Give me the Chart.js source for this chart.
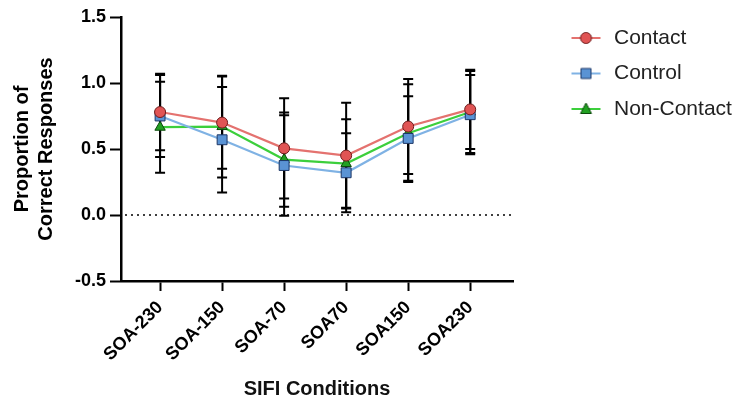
<!DOCTYPE html>
<html>
<head>
<meta charset="utf-8">
<script src="https://cdn.jsdelivr.net/npm/chart.js@4.4.1/dist/chart.umd.min.js"></script>
<style>
  html, body { margin: 0; padding: 0; background: #fff; }
</style>
</head>
<body>
<canvas id="myChart" width="736" height="402"></canvas>
<script>
// values (mean and SD per SIFI condition)
var conditions = ['SOA-230', 'SOA-150', 'SOA-70', 'SOA70', 'SOA150', 'SOA230'];
var contactMean = [0.78, 0.70, 0.505, 0.45, 0.67, 0.80];
var contactSd = [0.29, 0.35, 0.38, 0.40, 0.36, 0.30];
var controlMean = [0.75, 0.57, 0.375, 0.32, 0.58, 0.76];
var controlSd = [0.31, 0.40, 0.38, 0.30, 0.32, 0.30];
var nonContactMean = [0.665, 0.67, 0.42, 0.39, 0.62, 0.78];
var nonContactSd = [0.345, 0.385, 0.357, 0.335, 0.37, 0.31];
var yTicks = [-0.5, 0.0, 0.5, 1.0, 1.5];

var ctx = document.getElementById('myChart').getContext('2d');

function toPoints(values) {
    return values.map(function (v, i) { return { x: i, y: v }; });
}

// little line + marker picture for the legend
function legendSymbol(lineColor, fill, border, shape) {
    var c = document.createElement('canvas');
    c.width = 76;
    c.height = 18;
    var g = c.getContext('2d');
    g.strokeStyle = lineColor;
    g.lineWidth = 2;
    g.beginPath();
    g.moveTo(44, 9);
    g.lineTo(73, 9);
    g.stroke();
    g.fillStyle = fill;
    g.strokeStyle = border;
    g.lineWidth = 1;
    g.beginPath();
    if (shape === 'circle') {
        g.arc(58.5, 9, 5.5, 0, Math.PI * 2);
    } else if (shape === 'rect') {
        g.rect(53.5, 4, 10, 10);
    } else {
        g.moveTo(58.5, 3);
        g.lineTo(64, 13.5);
        g.lineTo(53, 13.5);
        g.closePath();
    }
    g.fill();
    g.stroke();
    return c;
}

var symbols = [
    legendSymbol('#e4726f', '#e05454', '#6e1c1c', 'circle'),
    legendSymbol('#7fb2e4', '#5a93d4', '#1d3766', 'rect'),
    legendSymbol('#3ccf3c', '#22a022', '#0b4a0b', 'triangle')
];

var errorBars = {
    id: 'errorBars',
    beforeDatasetsDraw: function (chart) {
        var c = chart.ctx;
        var yScale = chart.scales.y;
        var area = chart.chartArea;
        // dotted line at zero
        var y0 = yScale.getPixelForValue(0);
        c.save();
        c.strokeStyle = '#000';
        c.lineWidth = 1.6;
        c.setLineDash([2, 4]);
        c.beginPath();
        c.moveTo(area.left + 4, y0);
        c.lineTo(area.right, y0);
        c.stroke();
        c.setLineDash([]);
        c.lineWidth = 2;
        chart.data.datasets.forEach(function (ds, i) {
            var meta = chart.getDatasetMeta(i);
            meta.data.forEach(function (pt, j) {
                var m = ds.data[j].y;
                var top = yScale.getPixelForValue(m + ds.sd[j]);
                var bot = yScale.getPixelForValue(m - ds.sd[j]);
                c.beginPath();
                c.moveTo(pt.x, top);
                c.lineTo(pt.x, bot);
                c.moveTo(pt.x - 5, top);
                c.lineTo(pt.x + 5, top);
                c.moveTo(pt.x - 5, bot);
                c.lineTo(pt.x + 5, bot);
                c.stroke();
            });
        });
        c.restore();
    }
};

var myChart = new Chart(ctx, {
    type: 'line',
    data: {
        datasets: [
            {
                label: 'Contact',
                data: toPoints(contactMean),
                sd: contactSd,
                borderColor: '#e4726f',
                borderWidth: 2.2,
                pointStyle: 'circle',
                pointRadius: 5.5,
                pointBackgroundColor: '#e05454',
                pointBorderColor: '#6e1c1c',
                pointBorderWidth: 1,
                tension: 0
            },
            {
                label: 'Control',
                data: toPoints(controlMean),
                sd: controlSd,
                borderColor: '#7fb2e4',
                borderWidth: 2.2,
                pointStyle: 'rect',
                pointRadius: 7,
                pointBackgroundColor: '#5a93d4',
                pointBorderColor: '#1d3766',
                pointBorderWidth: 1,
                tension: 0
            },
            {
                label: 'Non-Contact',
                data: toPoints(nonContactMean),
                sd: nonContactSd,
                borderColor: '#3ccf3c',
                borderWidth: 2.2,
                pointStyle: 'triangle',
                pointRadius: 6,
                pointBackgroundColor: '#22a022',
                pointBorderColor: '#0b4a0b',
                pointBorderWidth: 1,
                tension: 0
            }
        ]
    },
    options: {
        responsive: false,
        animation: false,
        devicePixelRatio: 1,
        layout: { padding: { left: 6, right: 4, top: 13, bottom: 1 } },
        plugins: {
            tooltip: { enabled: false },
            legend: {
                position: 'right',
                align: 'start',
                maxWidth: 219,
                labels: {
                    usePointStyle: true,
                    pointStyleWidth: 76,
                    padding: 14.5,
                    color: '#222',
                    font: { family: 'Liberation Sans', size: 21 },
                    generateLabels: function (chart) {
                        return chart.data.datasets.map(function (ds, i) {
                            return {
                                text: ds.label,
                                pointStyle: symbols[i],
                                datasetIndex: i,
                                fontColor: '#222',
                                fillStyle: 'transparent',
                                strokeStyle: 'transparent',
                                lineWidth: 0
                            };
                        });
                    }
                }
            }
        },
        scales: {
            x: {
                type: 'linear',
                min: -0.63,
                max: 5.69,
                afterBuildTicks: function (scale) {
                    scale.ticks = conditions.map(function (c, i) { return { value: i }; });
                },
                afterFit: function (scale) {
                    scale.height = 120;
                },
                ticks: {
                    autoSkip: false,
                    minRotation: 45,
                    maxRotation: 45,
                    padding: 6,
                    color: '#000',
                    font: { family: 'Liberation Sans', size: 18, weight: 'bold' },
                    callback: function (v) { return conditions[v]; }
                },
                grid: { drawOnChartArea: false, drawTicks: true, tickLength: 10, tickWidth: 2, tickColor: '#000' },
                border: { color: '#000', width: 2.5 },
                title: {
                    display: true,
                    text: 'SIFI Conditions',
                    color: '#111',
                    font: { family: 'Liberation Sans', size: 20, weight: 'bold' },
                    padding: { top: 4, bottom: 0 }
                }
            },
            y: {
                min: -0.5,
                max: 1.5,
                afterBuildTicks: function (scale) {
                    scale.ticks = yTicks.map(function (v) { return { value: v }; });
                },
                afterFit: function (scale) {
                    scale.width = 115;
                    scale.paddingTop = 17;
                },
                ticks: {
                    padding: 4,
                    color: '#000',
                    font: { family: 'Liberation Sans', size: 18, weight: 'bold' },
                    callback: function (v) { return Number(v).toFixed(1); }
                },
                grid: { drawOnChartArea: false, drawTicks: true, tickLength: 11, tickWidth: 2, tickColor: '#000' },
                border: { color: '#000', width: 2.5 },
                title: {
                    display: true,
                    text: ['Proportion of', 'Correct Responses'],
                    color: '#000',
                    font: { family: 'Liberation Sans', size: 20, weight: 'bold' },
                    padding: { top: 4, bottom: 4 }
                }
            }
        }
    },
    plugins: [errorBars]
});
</script>
</body>
</html>
